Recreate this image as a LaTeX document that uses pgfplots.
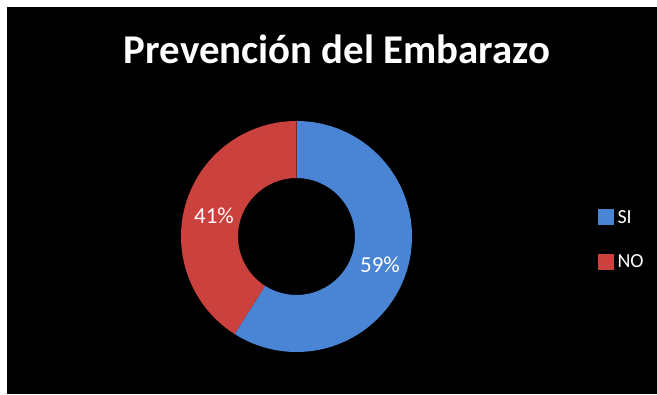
\documentclass[border=0pt]{standalone}
\usepackage{pgfplots}
\pgfplotsset{compat=1.18}
\usepackage{pgfplotstable}
\usepackage{fontspec}
\setmainfont{Carlito}
\usetikzlibrary{calc}
\definecolor{siblue}{RGB}{74,133,213}
\definecolor{nored}{RGB}{203,65,62}
\pgfplotstableread{
label value
SI 59
NO 41
}\piedata
\begin{document}
\begin{tikzpicture}
\pgfplotstablegetelem{0}{value}\of\piedata \let\vSI\pgfplotsretval
\pgfplotstablegetelem{1}{value}\of\piedata \let\vNO\pgfplotsretval
\pgfmathsetmacro\aEnd{90-3.6*\vSI}
\begin{axis}[x=1bp,y=1bp,xmin=0,xmax=657,ymin=0,ymax=394,
  hide axis, scale only axis, clip=false, at={(0,0)}, anchor=south west,
  legend style={at={(axis cs:598,186)}, anchor=north west, draw=none, fill=none,
    text=white, font=\fontsize{20}{22}\selectfont, inner sep=0pt, row sep=26bp,
    cells={anchor=west}, /tikz/every odd column/.style={inner xsep=0pt}},
  legend image code/.code={\fill[#1] (0bp,-7bp) rectangle (15bp,8bp);}]
\fill[white] (axis cs:0,0) rectangle (axis cs:657,394);
\fill[black] (axis cs:7,0) rectangle (axis cs:657,387);
\fill[siblue] ($(axis cs:296.5,157.5)+(90:115.5bp)$) arc[start angle=90,end angle=\aEnd,radius=115.5bp]
  -- ($(axis cs:296.5,157.5)+(\aEnd:58.5bp)$) arc[start angle=\aEnd,end angle=90,radius=58.5bp] -- cycle;
\fill[nored] ($(axis cs:296.5,157.5)+(\aEnd:115.5bp)$) arc[start angle=\aEnd,end angle=-270,radius=115.5bp]
  -- ($(axis cs:296.5,157.5)+(-270:58.5bp)$) arc[start angle=-270,end angle=\aEnd,radius=58.5bp] -- cycle;
\draw[nored!60!black, line width=0.8bp] ($(axis cs:296.5,157.5)+(90:58.5bp)$) -- ($(axis cs:296.5,157.5)+(90:115.5bp)$);
\node[white,font=\fontsize{23}{25}\selectfont] at (axis cs:380,129) {\vSI\%};
\node[white,font=\fontsize{23}{25}\selectfont] at (axis cs:214,178) {\vNO\%};
\node[white,font=\bfseries\fontsize{41}{47}\selectfont,anchor=base] at (axis cs:337,331) {Prevención del Embarazo};
\addlegendimage{siblue}
\addlegendentry{\hspace{2bp}SI}
\addlegendimage{nored}
\addlegendentry{\hspace{2bp}NO}
\end{axis}
\end{tikzpicture}
\end{document}
